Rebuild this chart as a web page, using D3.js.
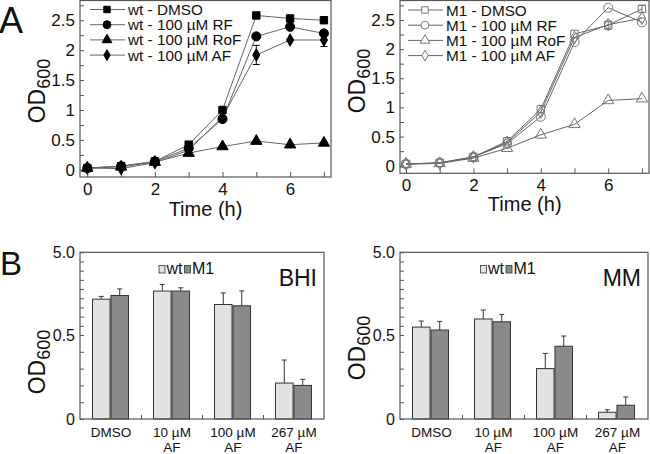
<!DOCTYPE html>
<html><head><meta charset="utf-8">
<script src="https://cdn.jsdelivr.net/npm/d3@7"></script>
<style>body{margin:0;background:#fff}svg{font-family:"Liberation Sans",Arial,sans-serif;display:block}</style>
</head><body><svg id="c" width="650" height="454"></svg>
<script>
// ---------- DATA ----------
const times = [0,1,2,3,4,5,6,7];
const xTickLabels = [0,2,4,6];
const yTickLabelsA = [0,0.5,1,1.5,2,2.5];

const wtNames = ["wt - DMSO","wt - 100 µM RF","wt - 100 µM RoF","wt - 100 µM AF"];
const wtDMSO = [0.03,0.06,0.14,0.42,1.00,2.58,2.53,2.50];
const wtRF   = [0.03,0.06,0.14,0.36,0.85,2.23,2.39,2.28];
const wtRoF  = [0.03,0.05,0.13,0.28,0.39,0.48,0.42,0.45];
const wtAF   = [0.03,0.02,0.12,0.33,0.88,1.92,2.17,2.17];
const wtAFerr= [0,0,0,0,0,0.16,0,0.11];

const m1Names = ["M1 - DMSO","M1 - 100 µM RF","M1 - 100 µM RoF","M1 - 100 µM AF"];
const m1DMSO = [0.03,0.05,0.15,0.42,0.97,2.26,2.41,2.69];
const m1RF   = [0.03,0.05,0.15,0.38,0.84,2.12,2.71,2.46];
const m1RoF  = [0.03,0.04,0.13,0.30,0.53,0.71,1.12,1.15];
const m1AF   = [0.03,0.04,0.15,0.40,0.92,2.20,2.42,2.53];
const m1DMSOerr = [0,0,0,0,0,0,0.07,0.06];

const conditions = ["DMSO","10 µM|AF","100 µM|AF","267 µM|AF"];
const strains = ["wt","M1"];
const bhiWt = [2.45,2.89,2.16,0.214];
const bhiM1 = [2.65,2.89,2.09,0.20];
const bhiWtErr = [0.15,0.36,0.63,0.137];
const bhiM1Err = [0.36,0.18,0.81,0.036];
const mmWt = [0.93,1.37,0.30,0.04];
const mmM1 = [0.77,1.22,0.433,0.082];
const mmWtErr = [0.33,0.49,0.09,0.015];
const mmM1Err = [0.47,0.40,0.061,0.049];
const yTickLabelsB = ["0","0.5","5.0"];

// ---------- DRAW ----------
const FONT = "'Liberation Sans',Arial,sans-serif";
const svg = d3.select("#c");
const LINE = "#666", AX = "#555";

function txt(x,y,size,s,anchor){
  return svg.append("text").attr("x",x).attr("y",y).attr("font-size",size).attr("font-family",FONT)
    .attr("text-anchor",anchor||"start").attr("fill","#111").text(s);
}

function odLabel(x, y, size, sub) {
  const t = svg.append("text").attr("transform", `translate(${x},${y}) rotate(-90)`)
    .attr("text-anchor","middle").attr("font-size", size).attr("font-family",FONT).attr("fill","#111");
  t.append("tspan").text("OD");
  t.append("tspan").attr("font-size", sub).attr("dy", 5).text("600");
}

function frame(x0,y0,x1,y1){
  svg.append("rect").attr("x",x0).attr("y",y0).attr("width",x1-x0).attr("height",y1-y0)
    .attr("fill","none").attr("stroke",AX).attr("stroke-width",1.2);
}

function growth(cfg){
  const x = d3.scaleLinear().domain(cfg.xd).range([cfg.x0,cfg.x1]);
  const y = d3.scaleLinear().domain(cfg.yd).range([cfg.y1,cfg.y0]);
  const g = svg.append("g");
  const ax = g.append("g").attr("transform",`translate(0,${cfg.y1})`)
    .call(d3.axisBottom(x).tickValues(times).tickSize(-5).tickPadding(6)
      .tickFormat(d => xTickLabels.includes(d) ? d : ""));
  const ay = g.append("g").attr("transform",`translate(${cfg.x0},0)`)
    .call(d3.axisLeft(y).tickValues(d3.range(0,2.76,0.25)).tickSize(-4).tickPadding(5)
      .tickFormat(d => yTickLabelsA.some(v=>Math.abs(v-d)<1e-6) ? d3.format("~g")(d) : ""));
  [ax,ay].forEach(a=>{
    a.select(".domain").remove();
    a.attr("font-family",FONT);
    a.selectAll("line").attr("stroke",AX);
    a.selectAll("text").attr("font-size",17).attr("fill","#111");
  });
  frame(cfg.x0,cfg.y0,cfg.x1,cfg.y1);
  const line = d3.line().x((d,i)=>x(times[i])).y(d=>y(d));
  const syms = [d3.symbolSquare,d3.symbolCircle,d3.symbolTriangle,d3.symbolDiamond];
  const sizes = [55,65,55,45];
  cfg.series.forEach(s=>{
    g.append("path").attr("d",line(s)).attr("fill","none").attr("stroke",LINE).attr("stroke-width",1);
  });
  cfg.errs.forEach(e=>{
    e.err.forEach((v,i)=>{
      if(!v) return;
      const cx = x(times[i]), a = y(e.vals[i]-v), b = y(e.vals[i]+v);
      g.append("line").attr("x1",cx).attr("x2",cx).attr("y1",a).attr("y2",b).attr("stroke",cfg.mk);
      [a,b].forEach(yy=>g.append("line").attr("x1",cx-3.5).attr("x2",cx+3.5).attr("y1",yy).attr("y2",yy).attr("stroke",cfg.mk));
    });
  });
  cfg.series.forEach((s,k)=>{
    g.selectAll(null).data(s).enter().append("path")
      .attr("transform",(d,i)=>`translate(${x(times[i])},${y(d)})`)
      .attr("d",d3.symbol().type(syms[k]).size(sizes[k]))
      .attr("fill",cfg.open?"none":"#000").attr("stroke",cfg.open?"#777":"#000").attr("stroke-width",1);
  });
  cfg.names.forEach((n,k)=>{
    const ly = cfg.ly + k*15.2;
    g.append("line").attr("x1",cfg.lx).attr("x2",cfg.lx+35).attr("y1",ly).attr("y2",ly).attr("stroke",LINE);
    g.append("path").attr("transform",`translate(${cfg.lx+17},${ly})`)
      .attr("d",d3.symbol().type(syms[k]).size(sizes[k]*0.75))
      .attr("fill",cfg.open?"#fff":"#000").attr("stroke",cfg.open?"#777":"#000");
    g.append("text").attr("x",cfg.lx+38).attr("y",ly+5.5).attr("font-size",15.3).attr("font-family",FONT).attr("fill","#111").text(n);
  });
}

growth({x0:80,x1:331,y0:0.5,y1:177,xd:[-0.216,7.21],yd:[-0.12,2.83],
  series:[wtDMSO,wtRF,wtRoF,wtAF],names:wtNames,open:false,mk:"#000",
  errs:[{vals:wtAF,err:wtAFerr}],lx:90,ly:9.5});
growth({x0:400,x1:649,y0:0.5,y1:173.3,xd:[-0.178,7.21],yd:[-0.13,2.834],
  series:[m1DMSO,m1RF,m1RoF,m1AF],names:m1Names,open:true,mk:"#777",
  errs:[{vals:m1DMSO,err:m1DMSOerr}],lx:408,ly:10});

odLabel(45,91,23,18);
odLabel(365,81,23,18);
txt(205.5,216,20,"Time (h)","middle");
txt(524.7,211,20,"Time (h)","middle");
txt(-1,33,36,"A");
txt(0,275,33,"B");

function bars(cfg){
  const g = svg.append("g");
  const x0 = d3.scaleBand().domain(conditions).range([cfg.x0,cfg.x1]);
  const x1 = d3.scaleBand().domain(strains).range([12.5,48.5]).paddingInner(0.05);
  const yLow = d3.scaleLinear().domain([0,0.5]).range([cfg.y1, cfg.ym]);
  const yHigh = d3.scaleLinear().domain([0.5,5]).range([cfg.ym, cfg.y0]);
  const y = v => v<=0.5 ? yLow(v) : yHigh(v);
  const aL = g.append("g").attr("transform",`translate(${cfg.x0},0)`)
    .call(d3.axisLeft(yLow).tickValues([0,0.1,0.2,0.3,0.4,0.5]).tickSize(-4).tickPadding(5)
      .tickFormat(d => d===0 ? yTickLabelsB[0] : d===0.5 ? yTickLabelsB[1] : ""));
  const aH = g.append("g").attr("transform",`translate(${cfg.x0},0)`)
    .call(d3.axisLeft(yHigh).tickValues(d3.range(1,5.01,0.5)).tickSize(-4).tickPadding(5)
      .tickFormat(d => d===5 ? yTickLabelsB[2] : ""));
  const aX = g.append("g").attr("transform",`translate(0,${cfg.y1})`)
    .call(d3.axisBottom(d3.scaleLinear().domain([0,4]).range([cfg.x0,cfg.x1])).tickValues([1,2,3]).tickSize(-4).tickFormat(""));
  [aL,aH,aX].forEach(a=>{
    a.select(".domain").remove();
    a.attr("font-family",FONT);
    a.selectAll("line").attr("stroke",AX);
    a.selectAll("text").attr("font-size",16).attr("fill","#111");
  });
  const series = [{k:"wt",v:cfg.wt,e:cfg.wtErr,c:"#e2e2e2"},{k:"M1",v:cfg.m1,e:cfg.m1Err,c:"#8a8a8a"}];
  series.forEach(s=>{
    conditions.forEach((c,i)=>{
      const bx = x0(c)+x1(s.k), bw = x1.bandwidth(), cx = bx+bw/2;
      const top = y(s.v[i]+s.e[i]);
      g.append("line").attr("x1",cx).attr("x2",cx).attr("y1",y(s.v[i])).attr("y2",top).attr("stroke","#333");
      g.append("line").attr("x1",cx-2.5).attr("x2",cx+2.5).attr("y1",top).attr("y2",top).attr("stroke","#333");
      g.append("rect").attr("x",bx).attr("y",y(s.v[i])).attr("width",bw).attr("height",cfg.y1-y(s.v[i]))
        .attr("fill",s.c).attr("stroke","#333").attr("stroke-width",1);
    });
  });
  frame(cfg.x0,cfg.y0,cfg.x1,cfg.y1);
  conditions.forEach(c=>{
    c.split("|").forEach((p,j)=>{
      g.append("text").attr("x",x0(c)+x0.bandwidth()/2+0.5).attr("y",436.7+j*15).attr("text-anchor","middle")
        .attr("font-size",13.5).attr("font-family",FONT).attr("fill","#111").text(p);
    });
  });
  strains.forEach((s,k)=>{
    const lx = cfg.lx + k*25.5;
    g.append("rect").attr("x",lx).attr("y",265.5).attr("width",6).attr("height",7.5)
      .attr("fill",k? "#8a8a8a":"#e2e2e2").attr("stroke","#333").attr("stroke-width",0.8);
    g.append("text").attr("x",lx+7.5).attr("y",274).attr("font-size",16).attr("font-family",FONT).attr("fill","#111").text(s);
  });
  g.append("text").attr("x",cfg.x1-7).attr("y",285.7).attr("text-anchor","end").attr("font-size",23)
    .attr("font-family",FONT).attr("fill","#111").text(cfg.title);
}

bars({x0:80,x1:324,y0:252.3,ym:335,y1:419,wt:bhiWt,m1:bhiM1,wtErr:bhiWtErr,m1Err:bhiM1Err,lx:159,title:"BHI"});
bars({x0:400,x1:648,y0:252.3,ym:335,y1:419,wt:mmWt,m1:mmM1,wtErr:mmWtErr,m1Err:mmM1Err,lx:480.5,title:"MM"});
odLabel(45,362,23,18);
odLabel(365,348,23,18);
</script></body></html>
